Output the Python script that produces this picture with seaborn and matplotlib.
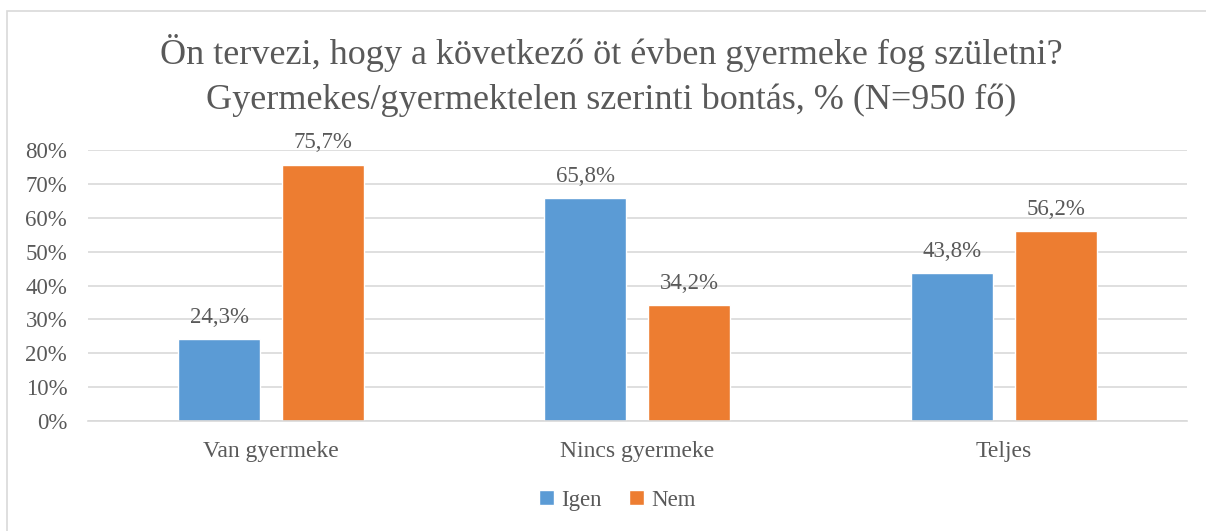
import matplotlib
matplotlib.use('Agg')
import matplotlib.pyplot as plt
import matplotlib.patches as mpatches
import pandas as pd
import seaborn as sns

categories = ['Van gyermeke', 'Nincs gyermeke', 'Teljes']
series = ['Igen', 'Nem']
igen = [24.3, 65.8, 43.8]
nem = [75.7, 34.2, 56.2]
yticks = [0, 10, 20, 30, 40, 50, 60, 70, 80]
title = ('Ön tervezi, hogy a következő öt évben gyermeke fog születni?\n'
         'Gyermekes/gyermektelen szerinti bontás, % (N=950 fő)')

df = pd.DataFrame({
    'kategória': categories * 2,
    'válasz': [series[0]] * 3 + [series[1]] * 3,
    'érték': igen + nem,
})

sns.set_style('white')
plt.rcParams['font.family'] = ['Liberation Serif', 'DejaVu Serif']
text_color = '#595959'
grid_color = '#D9D9D9'

fig = plt.figure(figsize=(12.06, 5.31), dpi=100)
ax = fig.add_axes([0.073, 0.207, 0.911, 0.5105])

sns.barplot(data=df, x='kategória', y='érték', hue='válasz',
            palette=['#5B9BD5', '#ED7D31'], width=0.568, gap=0.21,
            saturation=1, legend=True, ax=ax)

ax.set_ylim(0, 80)
ax.set_yticks(yticks)
ax.set_yticklabels([f'{t}%' for t in yticks])
ax.set_xlabel('')
ax.set_ylabel('')
ax.grid(axis='y', color=grid_color, linewidth=1.2)
ax.set_axisbelow(True)
for side in ['top', 'right', 'left']:
    ax.spines[side].set_visible(False)
ax.spines['bottom'].set_color(grid_color)
ax.spines['bottom'].set_linewidth(1.2)
ax.tick_params(axis='both', length=0, colors=text_color)
ax.tick_params(axis='y', pad=15, labelsize=16.5)
ax.tick_params(axis='x', pad=14, labelsize=17)

for container in ax.containers:
    ax.bar_label(container,
                 labels=[f'{v:.1f}'.replace('.', ',') + '%' for v in container.datavalues],
                 padding=8, fontsize=16.5, color=text_color)

handles, labels = ax.get_legend_handles_labels()
ax.get_legend().remove()
fig.legend(handles, labels, loc='center', bbox_to_anchor=(0.512, 0.058), ncol=2,
           frameon=False, fontsize=16.5, labelcolor=text_color,
           handlelength=0.65, handleheight=0.65, handletextpad=0.3, columnspacing=1.2)

fig.text(0.507, 0.858, title, ha='center', va='center', fontsize=26,
         color=text_color, linespacing=1.45)

fig.patches.append(mpatches.Rectangle((7 / 1206, -0.05), 1.05, 1 - 11 / 531 + 0.05,
                                      transform=fig.transFigure, fill=False,
                                      edgecolor=grid_color, linewidth=1.2))

fig.savefig('out.png', dpi=100)
